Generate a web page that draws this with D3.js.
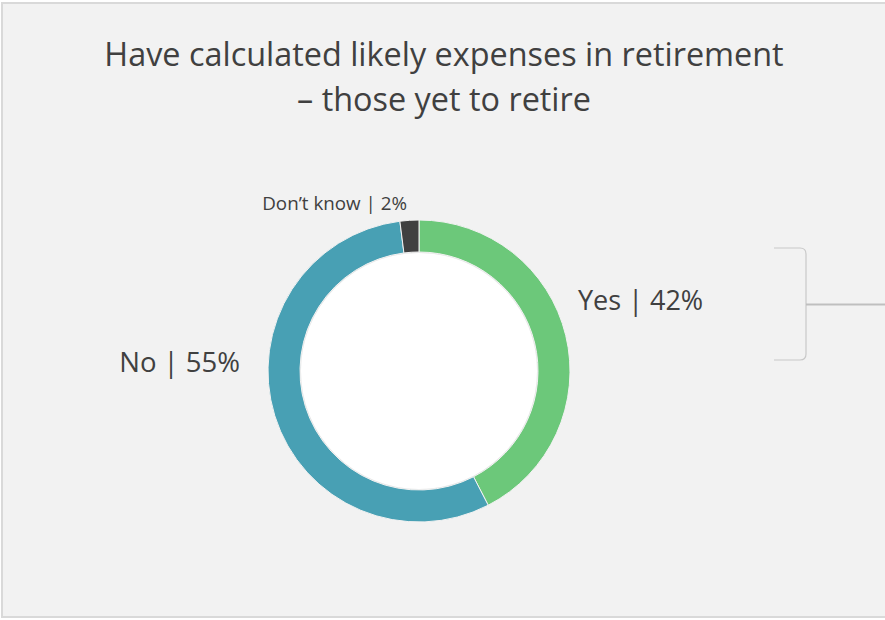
<!DOCTYPE html>
<html>
<head>
<meta charset="utf-8">
<script src="https://cdn.jsdelivr.net/npm/d3@7"></script>
<style>
  body { margin: 0; background: #ffffff; }
  svg { display: block; }
</style>
</head>
<body>
<svg width="885" height="620"></svg>
<script>
// chart data
let categories = ['Yes', 'No', 'Don\u2019t know'];
let values = [42, 55, 2];
let colors = ['#6cc87a', '#48a0b4', '#404040'];
let titleLines = ['Have calculated likely expenses in retirement', '\u2013 those yet to retire'];

let svg = d3.select('svg');
const W = 885, H = 620;

// background panel
svg.append('rect')
    .attr('x', 2).attr('y', 3)
    .attr('width', W + 10).attr('height', 614)
    .style('fill', '#f2f2f2')
    .style('stroke', '#d9d9d9')
    .style('stroke-width', 2);

// title
svg.append('g').selectAll('text')
    .data(titleLines)
    .enter().append('text')
    .attr('x', 444)
    .attr('y', (d, i) => 66 + i * 45)
    .style('text-anchor', 'middle')
    .style('font-family', 'Open Sans, sans-serif')
    .style('font-size', '32.4px')
    .style('fill', '#404040')
    .text(d => d);

// donut
const cx = 419, cy = 371;
const outerR = 151, innerR = 119;

let pie = d3.pie().sort(null).value(d => d);
let arc = d3.arc().innerRadius(innerR).outerRadius(outerR);
let arcs = pie(values);

let donut = svg.append('g').attr('transform', `translate(${cx},${cy})`);

donut.append('circle')
    .attr('r', innerR)
    .style('fill', '#ffffff')
    .style('stroke', '#e6e6e6')
    .style('stroke-width', 2);

donut.selectAll('.slice')
    .data(arcs)
    .enter().append('path')
    .attr('class', 'slice')
    .attr('d', arc)
    .style('fill', (d, i) => colors[i])
    .style('stroke', '#f2f2f2')
    .style('stroke-width', 1);

// labels
let labelPos = [
    {x: 578, y: 310, size: 27, anchor: 'start'},
    {x: 240, y: 372, size: 27.5, anchor: 'end'},
    {x: 407, y: 210, size: 18.8, anchor: 'end'}
];

svg.append('g').selectAll('text')
    .data(arcs)
    .enter().append('text')
    .attr('x', (d, i) => labelPos[i].x)
    .attr('y', (d, i) => labelPos[i].y)
    .style('text-anchor', (d, i) => labelPos[i].anchor)
    .style('font-family', 'Open Sans, sans-serif')
    .style('font-size', (d, i) => labelPos[i].size + 'px')
    .style('fill', '#404040')
    .text((d, i) => categories[i] + ' | ' + values[i] + '%');

// bracket on the right
let bracket = svg.append('g');
bracket.append('path')
    .attr('d', 'M774,248 L800,248 Q806,248 806,254 L806,354 Q806,360 800,360 L774,360')
    .style('fill', 'none')
    .style('stroke', '#c8c8c8')
    .style('stroke-width', 1.2);
bracket.append('line')
    .attr('x1', 806).attr('x2', 885)
    .attr('y1', 304.5).attr('y2', 304.5)
    .style('stroke', '#bfbfbf')
    .style('stroke-width', 2);
</script>
</body>
</html>
